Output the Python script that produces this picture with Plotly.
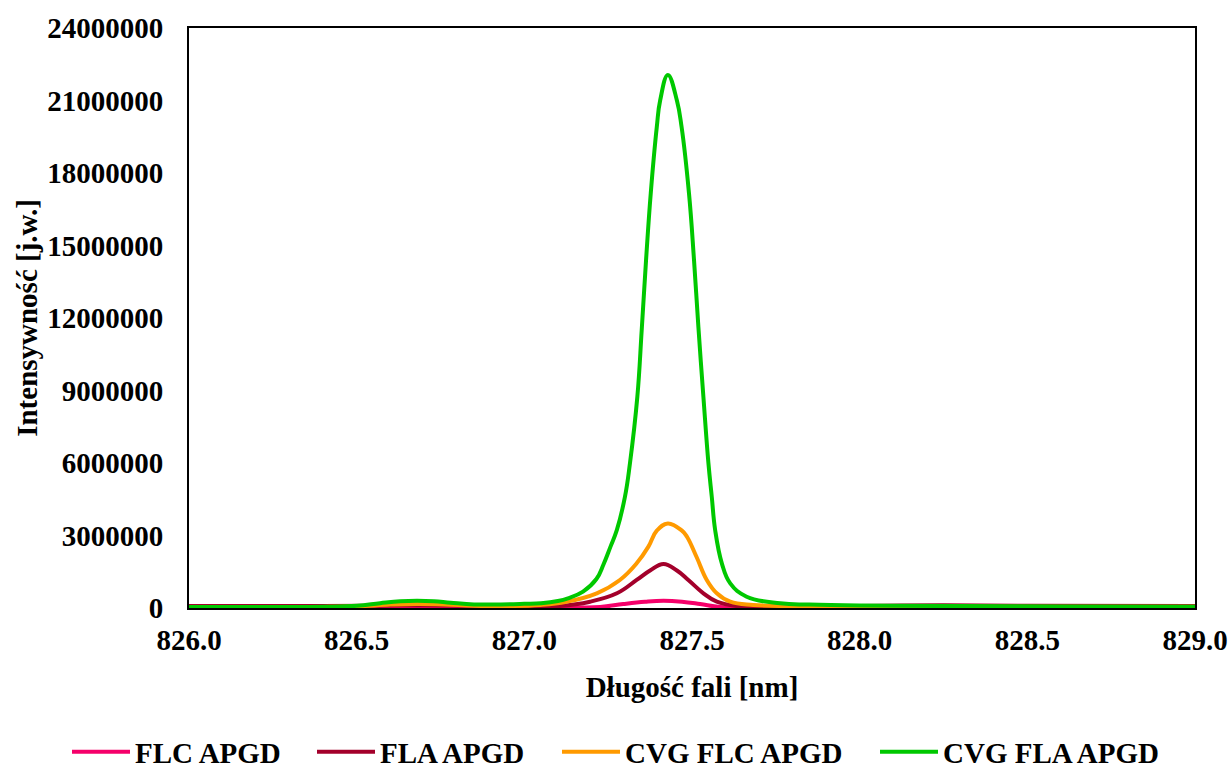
import plotly.graph_objects as go

# Emission spectra around 827.4 nm (intensity in arbitrary units)
flc_x = [826.00, 826.60, 826.70, 827.00, 827.15, 827.226, 827.295, 827.36, 827.415,
         827.47, 827.524, 827.584, 827.70, 828.00, 829.00]
flc_y = [30000, 40000, 45000, 25000, 25000, 41000, 165000, 260000, 300000,
         260000, 165000, 41000, 20000, 30000, 30000]

fla_x = [826.00, 826.40, 826.60, 826.70, 826.85, 827.00, 827.106, 827.196, 827.276,
         827.335, 827.375, 827.415, 827.455, 827.489, 827.534, 827.574, 827.633,
         827.75, 828.00, 828.25, 828.50, 829.00]
fla_y = [80000, 80000, 105000, 115000, 90000, 70000, 83000, 260000, 608000,
         1160000, 1550000, 1820000, 1550000, 1160000, 608000, 260000, 83000,
         60000, 85000, 110000, 95000, 85000]

cvg_flc_x = [826.00, 826.40, 826.50, 826.60, 826.68, 826.76, 826.85, 826.95, 827.047,
             827.126, 827.216, 827.285, 827.335, 827.370, 827.395, 827.428, 827.470,
             827.485, 827.514, 827.544, 827.574, 827.614, 827.683, 827.80,
             828.00, 828.50, 829.00]
cvg_flc_y = [40000, 45000, 70000, 140000, 170000, 150000, 90000, 80000, 124000,
             260000, 608000, 1160000, 1850000, 2540000, 3200000, 3500000, 3200000,
             2950000, 2100000, 1160000, 608000, 260000, 124000, 80000,
             65000, 55000, 50000]

cvg_fla_x = [826.00, 826.20, 826.40, 826.50, 826.57, 826.63, 826.68, 826.73, 826.78,
             826.85, 826.93, 827.00, 827.05, 827.10, 827.13, 827.175, 827.215,
             827.236, 827.257, 827.276, 827.300, 827.315, 827.337, 827.350, 827.363,
             827.377, 827.395, 827.405, 827.428, 827.455, 827.469, 827.491, 827.506,
             827.519, 827.534, 827.549, 827.559, 827.569, 827.589, 827.614, 827.663,
             827.763, 827.85, 828.00, 828.30, 828.60, 829.00]
cvg_fla_y = [45000, 45000, 50000, 90000, 200000, 280000, 300000, 280000, 220000,
             150000, 150000, 175000, 200000, 290000, 400000, 680000, 1200000,
             1800000, 2540000, 3230000, 4600000, 5990000, 8740000, 11500000, 14400000,
             17160000, 19900000, 21000000, 22060000, 21000000, 19900000, 17160000, 14400000,
             11640000, 8740000, 5990000, 4600000, 3230000, 1850000, 1020000, 468000,
             194000, 140000, 100000, 80000, 65000, 55000]

series = [
    ("FLC APGD", flc_x, flc_y, "#F5006A", "legend"),
    ("FLA APGD", fla_x, fla_y, "#A3002B", "legend2"),
    ("CVG FLC APGD", cvg_flc_x, cvg_flc_y, "#FF9A00", "legend3"),
    ("CVG FLA APGD", cvg_fla_x, cvg_fla_y, "#00C800", "legend4"),
]

FONT = "Times New Roman, Liberation Serif, serif"
BOLD = dict(family=FONT, size=29, color="black", weight="bold")

fig = go.Figure()
for name, xs, ys, color, leg in series:
    fig.add_trace(go.Scatter(
        x=xs, y=ys, name=name, mode="lines", legend=leg,
        line=dict(color=color, width=4, shape="spline", smoothing=1.2),
    ))

# one legend box per entry so the entries are spread along the bottom
legend_left = {"legend": 67, "legend2": 312, "legend3": 557, "legend4": 875}
plot_left, plot_w = 189, 1006
legends = {}
for key, px in legend_left.items():
    legends[key] = dict(
        orientation="h", x=(px - plot_left) / plot_w, xanchor="left",
        yref="container", y=17 / 769, yanchor="middle",
        font=BOLD, itemwidth=58, bgcolor="rgba(0,0,0,0)",
    )

fig.update_layout(
    width=1229, height=769,
    margin=dict(l=189, r=34, t=28, b=161, autoexpand=False),
    paper_bgcolor="white", plot_bgcolor="white",
    font=BOLD,
    showlegend=True,
    **legends,
    xaxis=dict(
        range=[826, 829], dtick=0.5, tick0=826, tickformat=".1f",
        showgrid=False, zeroline=False, automargin=False,
        showline=True, linecolor="black", linewidth=2, mirror=True,
        ticks="", ticklabelstandoff=5,
        tickfont=BOLD,
        title=dict(text="Długość fali [nm]", standoff=22, font=BOLD),
    ),
    yaxis=dict(
        range=[0, 24000000], dtick=3000000, tick0=0, tickformat="d",
        showgrid=False, zeroline=False, automargin=False,
        showline=True, linecolor="black", linewidth=2, mirror=True,
        ticks="", ticklabelstandoff=18,
        tickfont=BOLD,
        title=dict(text="Intensywność [j.w.]", standoff=1, font=BOLD),
    ),
)

fig.write_html("out.html")
